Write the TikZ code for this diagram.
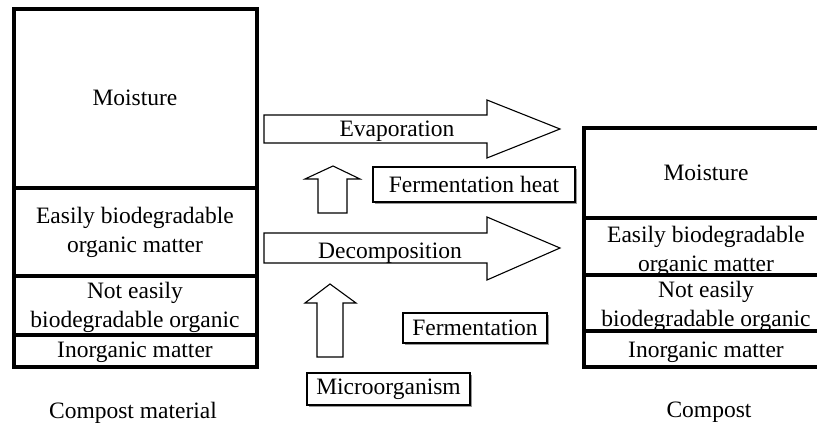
\documentclass[tikz,border=0pt]{standalone}
\usepackage{fontspec}
\setmainfont{Liberation Serif}
\usepackage{tikz}
\usetikzlibrary{shadows}

\begin{document}
\begin{tikzpicture}[x=1pt, y=-1pt,
  txt/.style={font=\fontsize{23.5}{29}\selectfont, align=center, inner sep=0pt},
  layer/.style={line width=4pt},
  blockarrow/.style={draw, line width=1.1pt, fill=white, line join=miter},
  tagbox/.style={txt, draw, line width=1.1pt, fill=white,
    drop shadow={shadow xshift=1.6pt, shadow yshift=-1.6pt, fill=gray!80, opacity=1}}]
  \useasboundingbox (0,0) rectangle (817,427);
  \clip (0,0) rectangle (817,427);
  % Compost material (left stack)
  \node[txt] (mmoist) at (135,98) {Moisture};
  \node[txt] (measy) at (135,232) {Easily biodegradable\\organic matter};
  \node[txt] (mnot) at (135,307) {Not easily\\biodegradable organic};
  \node[txt] (minorg) at (135,352) {Inorganic matter};
  \draw[layer] (14,9.5) rectangle (257,367);
  \draw[layer] (14,188) -- (257,188);
  \draw[layer] (14,276) -- (257,276);
  \draw[layer] (14,335) -- (257,335);
  \node[txt] (mlabel) at (133,413) {Compost material};
  % Compost (right stack)
  \node[txt] (cmoist) at (706,173) {Moisture};
  \node[txt] (ceasy) at (706,251) {Easily biodegradable\\organic matter};
  \node[txt] (cnot) at (706,306) {Not easily\\biodegradable organic};
  \node[txt] (cinorg) at (706,352) {Inorganic matter};
  \draw[layer] (584,128) rectangle (830,367);
  \draw[layer] (584,218) -- (830,218);
  \draw[layer] (584,275) -- (830,275);
  \draw[layer] (584,331) -- (830,331);
  \node[txt] (clabel) at (709,412) {Compost};
  % Big arrows
  \draw[blockarrow] (264,115) -- (487,115) -- (487,100) -- (560,129)
    -- (487,158) -- (487,143) -- (264,143) -- cycle;
  \node[txt] (evap) at (397,131) {Evaporation};
  \draw[blockarrow] (264,233) -- (487,233) -- (487,217) -- (560,248)
    -- (487,280) -- (487,263) -- (264,263) -- cycle;
  \node[txt] (decomp) at (390,253) {Decomposition};
  % Small up arrows
  \draw[blockarrow] (318,213) -- (318,179) -- (305,179) -- (333,166)
    -- (360,179) -- (347,179) -- (347,213) -- cycle;
  \draw[blockarrow] (317,357) -- (317,303) -- (305,303) -- (330,284)
    -- (356,303) -- (343,303) -- (343,357) -- cycle;
  % Boxed labels
  \node[tagbox, minimum width=202pt, minimum height=35pt] (fheat) at (474,184.5) {Fermentation heat};
  \node[tagbox, minimum width=144pt, minimum height=30pt] (ferm) at (475,328) {Fermentation};
  \node[tagbox, minimum width=163pt, minimum height=32pt] (micro) at (388.5,389) {Microorganism};
\end{tikzpicture}
\end{document}
